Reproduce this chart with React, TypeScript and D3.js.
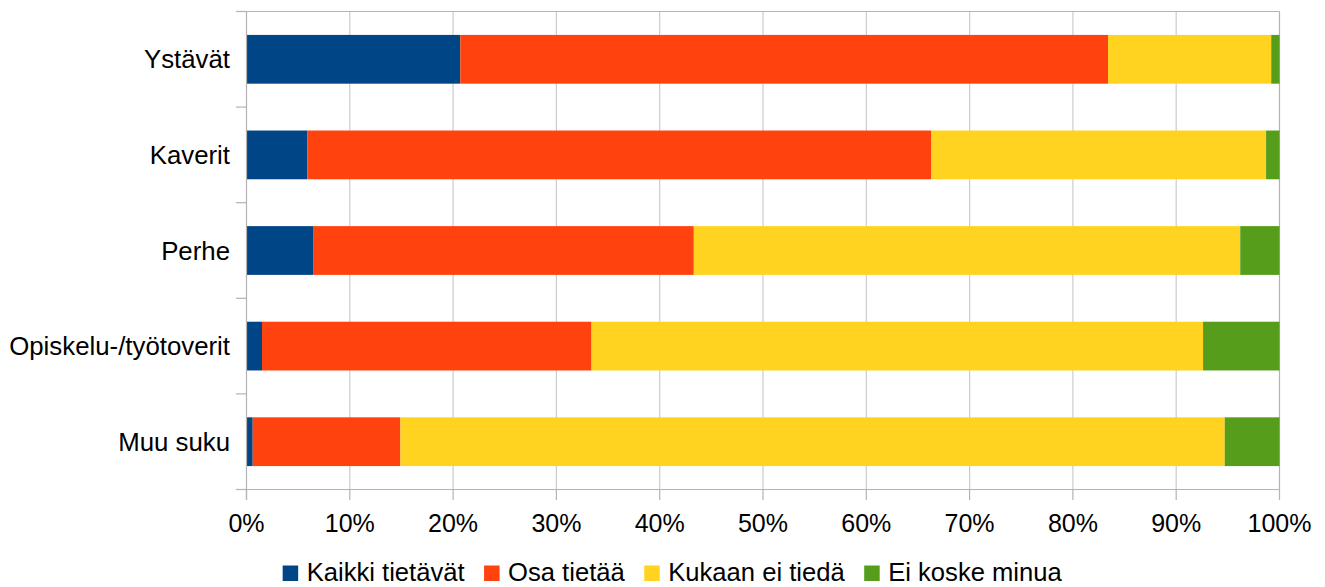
import React, { useEffect, useRef } from "react";
import * as d3 from "d3";

const categories = ["Ystävät", "Kaverit", "Perhe", "Opiskelu-/työtoverit", "Muu suku"];
const seriesNames = ["Kaikki tietävät", "Osa tietää", "Kukaan ei tiedä", "Ei koske minua"];
const kaikkiTietavat = [20.7, 5.9, 6.5, 1.5, 0.6];
const osaTietaa = [62.7, 60.4, 36.8, 31.9, 14.3];
const kukaanEiTieda = [15.8, 32.4, 52.9, 59.2, 79.8];
const eiKoskeMinua = [0.8, 1.3, 3.8, 7.4, 5.3];
const xTicks = [0, 10, 20, 30, 40, 50, 60, 70, 80, 90, 100];
const colors = ["#004586", "#ff420e", "#ffd320", "#579d1c"];

const W = 1325;
const H = 587;
const FONT = "'Liberation Sans', Arial, sans-serif";

export default function App() {
  const ref = useRef<SVGSVGElement | null>(null);

  useEffect(() => {
    const svg = d3.select(ref.current);
    svg.selectAll("*").remove();

    const left = 246.5, right = 1279.5, top = 11.5, bottom = 489.5;
    const x = d3.scaleLinear().domain([0, 100]).range([left, right]);
    const y = d3.scaleBand<string>().domain(categories).range([top, bottom]).paddingInner(0.49).paddingOuter(0.245);

    const rows = categories.map((c, i) => ({
      cat: c,
      v: [kaikkiTietavat[i], osaTietaa[i], kukaanEiTieda[i], eiKoskeMinua[i]],
    }));
    const stack = d3.stack<any>().keys(["0", "1", "2", "3"]).value((d: any, k: string) => d.v[+k]);
    const stacked = stack(rows);

    // gridlines
    svg.append("g").selectAll("line").data(xTicks.filter((t) => t > 0)).join("line")
      .attr("x1", (d) => x(d)).attr("x2", (d) => x(d))
      .attr("y1", top).attr("y2", bottom)
      .attr("stroke", (d) => (d === 100 ? "#b3b3b3" : "#cccccc")).attr("stroke-width", 1.2);

    // top border
    svg.append("line").attr("x1", 236).attr("x2", right).attr("y1", top).attr("y2", top)
      .attr("stroke", "#b3b3b3").attr("stroke-width", 1.2);

    // bars
    stacked.forEach((s, si) => {
      svg.append("g").selectAll("rect").data(s).join("rect")
        .attr("x", (d) => x(d[0]))
        .attr("width", (d) => x(d[1]) - x(d[0]))
        .attr("y", (d: any) => y(d.data.cat)!)
        .attr("height", y.bandwidth())
        .attr("fill", colors[si]);
    });

    // axes
    const axisColor = "#b3b3b3";
    svg.append("line").attr("x1", left).attr("x2", left).attr("y1", top).attr("y2", bottom + 10.5)
      .attr("stroke", axisColor).attr("stroke-width", 1.2);
    svg.append("line").attr("x1", 236).attr("x2", right).attr("y1", bottom).attr("y2", bottom)
      .attr("stroke", axisColor).attr("stroke-width", 1.2);
    const boundaries = d3.range(categories.length + 1).map((i) => top + (i * (bottom - top)) / categories.length);
    svg.append("g").selectAll("line").data(boundaries).join("line")
      .attr("x1", 236).attr("x2", left).attr("y1", (d) => d).attr("y2", (d) => d)
      .attr("stroke", axisColor).attr("stroke-width", 1.2);
    svg.append("g").selectAll("line").data(xTicks).join("line")
      .attr("x1", (d) => x(d)).attr("x2", (d) => x(d)).attr("y1", bottom).attr("y2", bottom + 10.5)
      .attr("stroke", axisColor).attr("stroke-width", 1.2);

    // x labels
    svg.append("g").selectAll("text").data(xTicks).join("text")
      .attr("x", (d) => x(d)).attr("y", 532)
      .attr("text-anchor", "middle")
      .attr("font-family", FONT).attr("font-size", 25).attr("fill", "#000")
      .text((d) => `${d}%`);

    // category labels
    svg.append("g").selectAll("text").data(categories).join("text")
      .attr("x", 230).attr("y", (d) => y(d)! + y.bandwidth() / 2 + 9)
      .attr("text-anchor", "end")
      .attr("font-family", FONT).attr("font-size", 25.8).attr("fill", "#000")
      .text((d) => d);

    // legend
    const lg = svg.append("g");
    const items = seriesNames.map((name, i) => {
      const g = lg.append("g");
      g.append("rect").attr("x", 0).attr("y", 565.5).attr("width", 15.5).attr("height", 15.5).attr("fill", colors[i]);
      const t = g.append("text").attr("x", 24).attr("y", 581)
        .attr("font-family", FONT).attr("font-size", 25.6).attr("fill", "#000").text(name);
      const w = (t.node() as SVGTextElement).getComputedTextLength();
      return { g, w: 24 + w };
    });
    const gap = 19.5;
    const total = d3.sum(items, (d) => d.w) + gap * (items.length - 1);
    let cx = 672.2 - total / 2;
    items.forEach((it) => {
      it.g.attr("transform", `translate(${cx},0)`);
      cx += it.w + gap;
    });
  }, []);

  return (
    <svg ref={ref} width={W} height={H} style={{ position: "absolute", left: 0, top: 0, background: "#fff" }} />
  );
}
